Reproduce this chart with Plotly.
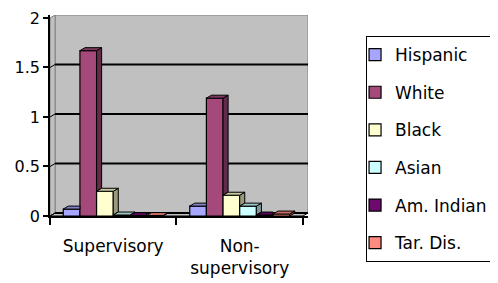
import plotly.graph_objects as go

categories = ["Supervisory", "Non-<br>supervisory"]
series_names = ["Hispanic", "White", "Black", "Asian", "Am. Indian", "Tar. Dis."]
values = {
    "Hispanic":   [0.07, 0.10],
    "White":      [1.67, 1.19],
    "Black":      [0.25, 0.21],
    "Asian":      [0.01, 0.10],
    "Am. Indian": [0.005, 0.01],
    "Tar. Dis.":  [0.005, 0.02],
}
front_colors = ["#A6A6FF", "#A4497A", "#FFFFD0", "#CCFFFF", "#6E0A6E", "#FF8A80"]
y_ticks = [0, 0.5, 1, 1.5, 2]

DX, DY = 0.04, 0.03          # depth offsets (data units)
GROUP = 0.79
W = GROUP / len(series_names)


def shade(hexc, f):
    h = hexc.lstrip("#")
    r, g, b = (int(h[i:i + 2], 16) for i in (0, 2, 4))
    return "#%02X%02X%02X" % (int(r * f), int(g * f), int(b * f))


xs = list(range(len(categories)))
fig = go.Figure()

# front faces (bars)
for j, name in enumerate(series_names):
    fig.add_trace(go.Bar(
        x=xs, y=values[name], name=name, width=W, offset=-GROUP / 2 + W * j,
        marker=dict(color=front_colors[j], line=dict(color="black", width=1.2)),
        legendgroup=name,
    ))

# side + top faces
for j, name in enumerate(series_names):
    sx, sy, tx, ty = [], [], [], []
    for c in xs:
        v = values[name][c]
        vn = values[series_names[j + 1]][c] if j + 1 < len(series_names) else 0
        x0 = c - GROUP / 2 + W * j
        x1 = x0 + W
        if v > vn:
            sx += [x1, x1, x1 + DX, x1 + DX, x1, None]
            sy += [vn, v, v + DY, vn + DY, vn, None]
            tx += [x0, x1, x1 + DX, x0 + DX, x0, None]
            ty += [v, v, v + DY, v + DY, v, None]
        else:
            tx += [x0, x1, x1, x0 + DX, x0, None]
            ty += [v, v, v + DY, v + DY, v, None]
    fig.add_trace(go.Scatter(x=sx, y=sy, mode="lines", fill="toself",
                             fillcolor=shade(front_colors[j], 0.6),
                             line=dict(color="black", width=1),
                             showlegend=False, hoverinfo="skip"))
    fig.add_trace(go.Scatter(x=tx, y=ty, mode="lines", fill="toself",
                             fillcolor=shade(front_colors[j], 0.78),
                             line=dict(color="black", width=1),
                             showlegend=False, hoverinfo="skip"))

x_lo, x_hi = -0.5, len(categories) - 0.5
shapes = []
# back wall
shapes.append(dict(type="rect", xref="x", yref="y", x0=x_lo + DX, x1=x_hi + DX,
                   y0=DY, y1=y_ticks[-1] + DY, fillcolor="#C0C0C0",
                   line=dict(color="#808080", width=1), layer="below"))
# left side wall
shapes.append(dict(type="path", xref="x", yref="y",
                   path=f"M{x_lo},0 L{x_lo + DX},{DY} L{x_lo + DX},{y_ticks[-1] + DY} L{x_lo},{y_ticks[-1]} Z",
                   fillcolor="#C0C0C0", line=dict(color="#808080", width=1), layer="below"))
# floor
shapes.append(dict(type="path", xref="x", yref="y",
                   path=f"M{x_lo},0 L{x_hi},0 L{x_hi + DX},{DY} L{x_lo + DX},{DY} Z",
                   fillcolor="#C0C0C0", line=dict(color="black", width=1), layer="below"))
# gridlines on the wall
for g in y_ticks[:-1]:
    shapes.append(dict(type="line", xref="x", yref="y", x0=x_lo + DX, x1=x_hi + DX,
                       y0=g + DY, y1=g + DY, line=dict(color="black", width=2), layer="below"))
    shapes.append(dict(type="line", xref="x", yref="y", x0=x_lo, x1=x_lo + DX,
                       y0=g, y1=g + DY, line=dict(color="black", width=1), layer="below"))

fig.update_layout(
    width=490, height=275,
    margin=dict(l=42, r=190, t=7, b=67, autoexpand=False),
    paper_bgcolor="white", plot_bgcolor="white",
    barmode="overlay",
    font=dict(family="DejaVu Sans", color="black"),
    shapes=shapes,
    showlegend=True,
    legend=dict(x=1.225, y=0.895, xanchor="left", yanchor="top",
                bordercolor="black", borderwidth=1, bgcolor="white",
                font=dict(size=17), traceorder="grouped", tracegroupgap=12.5,
                itemwidth=30, indentation=-12, maxheight=400),
    xaxis=dict(range=[x_lo, x_hi + DX], tickvals=xs, ticktext=categories,
               showgrid=False, zeroline=False, showline=True, linecolor="black",
               linewidth=1.5, ticks="", tickfont=dict(size=17),
               ticklabelstandoff=14,
               minor=dict(tickvals=[x_lo, 0.5, x_hi], ticks="outside",
                          ticklen=7, tickcolor="black", tickwidth=1.5)),
    yaxis=dict(range=[0, y_ticks[-1] + DY], tickvals=y_ticks,
               ticktext=[f"{t:g}" for t in y_ticks],
               showgrid=False, zeroline=False, showline=True, linecolor="black",
               linewidth=1.5, ticks="outside", ticklen=5, tickcolor="black",
               tickwidth=1.5, tickfont=dict(size=16)),
)

fig.write_html("out.html")
